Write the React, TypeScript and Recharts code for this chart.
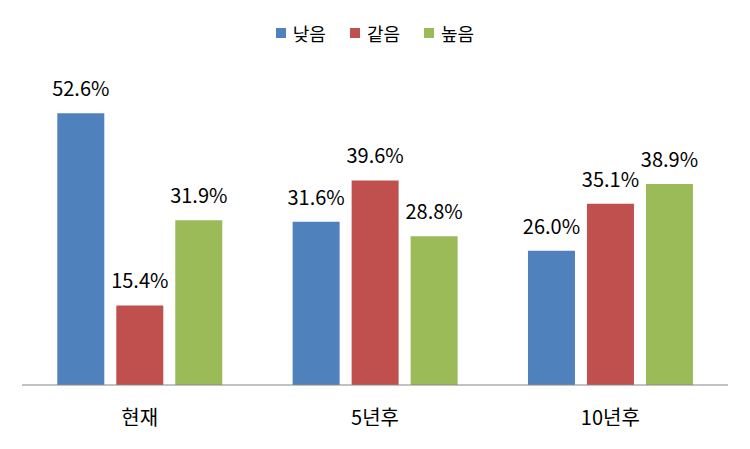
import React from 'react';
import { BarChart, Bar, XAxis, YAxis, LabelList } from 'recharts';

const categories = ['현재', '5년후', '10년후'];
const lowValues = [52.6, 31.6, 26.0];
const sameValues = [15.4, 39.6, 35.1];
const highValues = [31.9, 28.8, 38.9];
const seriesNames = ['낮음', '같음', '높음'];
const seriesColors = ['#4F81BD', '#C0504D', '#9BBB59'];

const data = categories.map((c, i) => ({
  name: c,
  low: lowValues[i],
  same: sameValues[i],
  high: highValues[i],
}));

const FONT = '"Noto Sans CJK KR", "Malgun Gothic", sans-serif';

const LegendBox = () => (
  <div style={{ position: 'absolute', left: 0, top: 19, width: 750, display: 'flex', justifyContent: 'center', alignItems: 'center', fontFamily: FONT, fontSize: 18, color: '#000', lineHeight: '28px' }}>
    {seriesNames.map((n, i) => (
      <div key={n} style={{ display: 'flex', alignItems: 'center', marginRight: i < 2 ? 24 : 0 }}>
        <span style={{ display: 'inline-block', width: 10, height: 10, background: seriesColors[i], marginRight: 7 }} />
        <span>{n}</span>
      </div>
    ))}
  </div>
);

const fmt = (v: any) => `${Number(v).toFixed(1)}%`;

export default function App() {
  const keys = ['low', 'same', 'high'];
  return (
    <div style={{ position: 'absolute', left: 0, top: 0, width: 750, height: 449, background: '#fff' }}>
      <BarChart
        width={750}
        height={449}
        data={data}
        margin={{ top: 75, right: 22, bottom: 34, left: 22 }}
        barCategoryGap="15%"
        barGap={12}
      >
        <XAxis
          dataKey="name"
          height={30}
          axisLine={{ stroke: '#868686', strokeWidth: 1 }}
          tickLine={false}
          tickSize={0}
          tickMargin={26}
          tick={{ fontSize: 20, fill: '#000', fontFamily: FONT }}
        />
        <YAxis hide domain={[0, 60]} />
        {keys.map((k, i) => (
          <Bar key={k} dataKey={k} name={seriesNames[i]} fill={seriesColors[i]} isAnimationActive={false}>
            <LabelList dataKey={k} position="top" offset={17} formatter={fmt} style={{ fontSize: 20, fill: '#000', fontFamily: FONT }} />
          </Bar>
        ))}
      </BarChart>
      <LegendBox />
    </div>
  );
}
